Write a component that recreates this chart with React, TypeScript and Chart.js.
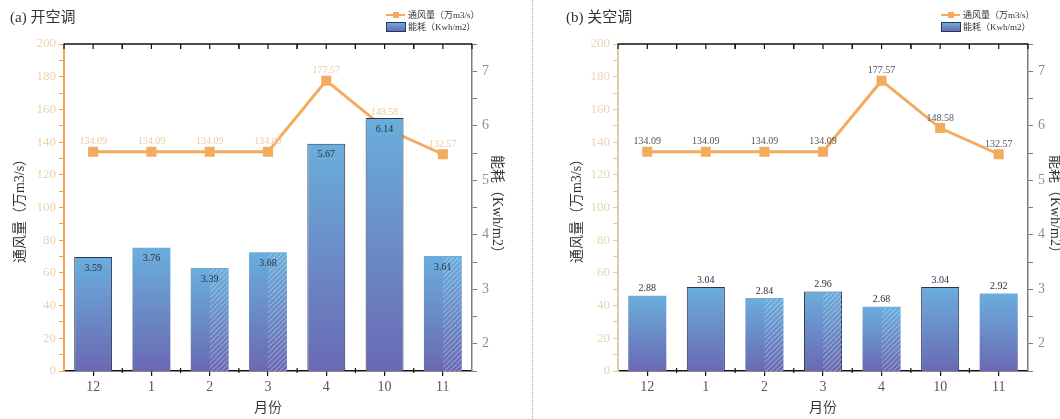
import React, { useEffect, useRef } from 'react';
import { Chart, registerables } from 'chart.js';
Chart.register(...registerables);

// ---------- data ----------
const months = ['12', '1', '2', '3', '4', '10', '11'];
const airflowOn = [134.09, 134.09, 134.09, 134.09, 177.57, 148.58, 132.57];
const energyOn = [3.59, 3.76, 3.39, 3.68, 5.67, 6.14, 3.61];
const airflowOff = [134.09, 134.09, 134.09, 134.09, 177.57, 148.58, 132.57];
const energyOff = [2.88, 3.04, 2.84, 2.96, 2.68, 3.04, 2.92];
const airflowRange = [0, 200];
const energyRange = [1.5, 7.5];

const FONT = '"Liberation Serif", "DejaVu Serif", "Noto Sans CJK SC", serif';
const ORANGE = '#F3AB5E';
const BAR_TOP = '#6AAEDC';
const BAR_BOTTOM = '#6A69B3';

interface Panel {
  airflow: number[];
  energy: number[];
  hatch: boolean[];
  border: boolean[];
  leftW: number;
  rightW: number;
  leftTitlePad: number;
  rightTitlePad: number;
  leftAxisColor: string;
  leftTickColor: string;
  barLabelInside: boolean;
  lineLabelColor: string;
  barsOnTop: boolean;
}

const panelOn: Panel = {
  airflow: airflowOn,
  energy: energyOn,
  hatch: [false, false, true, true, false, false, true],
  border: [true, false, false, false, true, true, false],
  leftW: 64,
  rightW: 58,
  leftTitlePad: 12,
  rightTitlePad: 25,
  leftAxisColor: '#F5A64C',
  leftTickColor: '#E9D2AC',
  barLabelInside: true,
  lineLabelColor: '#EFCB9F',
  barsOnTop: true,
};

const panelOff: Panel = {
  airflow: airflowOff,
  energy: energyOff,
  hatch: [false, false, true, true, true, false, false],
  border: [false, true, false, true, false, true, false],
  leftW: 88,
  rightW: 42,
  leftTitlePad: 39,
  rightTitlePad: 7,
  leftAxisColor: '#DCCBA4',
  leftTickColor: '#E6D5B2',
  barLabelInside: false,
  lineLabelColor: '#555555',
  barsOnTop: false,
};

function buildChart(canvas: HTMLCanvasElement, p: Panel) {
  const framePlugin = {
    id: 'frame',
    afterDraw(chart: any) {
      const { ctx, chartArea: a } = chart;
      const xs = chart.scales.x;
      const n = months.length;
      const half = (xs.getPixelForValue(1) - xs.getPixelForValue(0)) / 2;
      ctx.save();
      ctx.strokeStyle = '#111';
      ctx.lineWidth = 1.5;
      ctx.beginPath();
      ctx.moveTo(a.left, a.top);
      ctx.lineTo(a.right, a.top);
      ctx.stroke();
      ctx.lineWidth = 1.2;
      for (let i = 0; i < n; i++) {
        const cx = xs.getPixelForValue(i);
        [cx - half, cx, cx + half].forEach((xx) => {
          ctx.beginPath();
          ctx.moveTo(xx, a.top);
          ctx.lineTo(xx, a.top + 5);
          ctx.stroke();
        });
        if (i > 0) {
          ctx.beginPath();
          ctx.moveTo(cx - half, a.bottom - 3);
          ctx.lineTo(cx - half, a.bottom + 2);
          ctx.stroke();
        }
      }
      ctx.restore();
    },
  };

  const labelPlugin = {
    id: 'labels',
    afterDatasetDraw(chart: any, args: any) {
      if (args.index !== 1) return;
      const ctx = chart.ctx;
      const meta = chart.getDatasetMeta(1);
      ctx.save();
      meta.data.forEach((el: any, i: number) => {
        const { x, y, base, width } = el.getProps(['x', 'y', 'base', 'width'], true);
        if (p.hatch[i]) {
          ctx.save();
          ctx.beginPath();
          ctx.rect(x, y + 1, width / 2, base - y - 1);
          ctx.clip();
          ctx.strokeStyle = 'rgba(255,255,255,0.45)';
          ctx.lineWidth = 1;
          for (let k = -200; k < 400; k += 5) {
            ctx.beginPath();
            ctx.moveTo(x + k, base);
            ctx.lineTo(x + k + (base - y), y);
            ctx.stroke();
          }
          ctx.restore();
        }
        ctx.font = `10px ${FONT}`;
        ctx.textAlign = 'center';
        ctx.fillStyle = '#2a2f3a';
        if (p.barLabelInside) {
          ctx.textBaseline = 'top';
          ctx.fillText(p.energy[i].toFixed(2), x, y + 6);
        } else {
          ctx.textBaseline = 'bottom';
          ctx.fillText(p.energy[i].toFixed(2), x, y - 2);
        }
      });
      ctx.restore();
    },
    afterDatasetsDraw(chart: any) {
      const ctx = chart.ctx;
      const lineMeta = chart.getDatasetMeta(0);
      const barMeta = chart.getDatasetMeta(1);
      ctx.save();
      lineMeta.data.forEach((el: any, i: number) => {
        const { x, y } = el.getProps(['x', 'y'], true);
        let bottom = y - 5;
        if (p.barsOnTop) {
          const barTop = barMeta.data[i].getProps(['y'], true).y;
          if (bottom > barTop - 1 && y - 16 < barTop) bottom = barTop - 1;
        }
        ctx.font = `10px ${FONT}`;
        ctx.textAlign = 'center';
        ctx.textBaseline = 'bottom';
        ctx.fillStyle = p.lineLabelColor;
        ctx.fillText(p.airflow[i].toFixed(2), x, bottom);
      });
      ctx.restore();
    },
  };

  return new Chart(canvas, {
    type: 'bar',
    data: {
      labels: months,
      datasets: [
        {
          type: 'line',
          label: '通风量（万m3/s）',
          data: p.airflow,
          yAxisID: 'y',
          order: p.barsOnTop ? 1 : 0,
          borderColor: ORANGE,
          backgroundColor: ORANGE,
          borderWidth: 3,
          pointStyle: 'rect',
          pointRadius: 5,
          pointBackgroundColor: ORANGE,
          pointBorderColor: ORANGE,
          tension: 0,
        } as any,
        {
          type: 'bar',
          label: '能耗（Kwh/m2）',
          data: p.energy,
          yAxisID: 'y1',
          order: p.barsOnTop ? 0 : 1,
          barPercentage: 0.65,
          categoryPercentage: 1,
          borderWidth: p.border.map((b) => (b ? 1 : 0)),
          borderColor: '#2c3550',
          backgroundColor: (c: any) => {
            const chart = c.chart;
            const a = chart.chartArea;
            if (!a || c.type !== 'data' || !chart.scales.y1) return BAR_TOP;
            const top = chart.scales.y1.getPixelForValue(c.raw);
            const g = chart.ctx.createLinearGradient(0, top, 0, a.bottom);
            g.addColorStop(0, BAR_TOP);
            g.addColorStop(1, BAR_BOTTOM);
            return g;
          },
        } as any,
      ],
    },
    options: {
      animation: false,
      responsive: false,
      maintainAspectRatio: false,
      layout: { padding: { top: 44, left: 0, right: 0, bottom: 0 } },
      plugins: { legend: { display: false }, tooltip: { enabled: false } },
      scales: {
        x: {
          type: 'category',
          offset: true,
          grid: { display: true, drawOnChartArea: false, offset: false, tickLength: 5, color: '#111', lineWidth: 1.2 },
          border: { display: true, color: '#111', width: 1.5 },
          ticks: { font: { family: FONT, size: 14 }, color: '#555', padding: 3 },
          title: { display: true, text: '月份', font: { family: FONT, size: 14 }, color: '#333', padding: { top: 0, bottom: 2 } },
          afterFit: (s: any) => { s.height = 48; },
        },
        y: {
          type: 'linear',
          position: 'left',
          min: airflowRange[0],
          max: airflowRange[1],
          grid: { display: true, drawOnChartArea: false, tickLength: 5, color: p.leftAxisColor },
          border: { display: true, color: p.leftAxisColor, width: 2 },
          ticks: {
            stepSize: 10,
            autoSkip: false,
            padding: 3,
            color: p.leftTickColor,
            font: { family: FONT, size: 13 },
            callback: (v: any) => (Number(v) % 20 === 0 ? String(v) : ''),
          },
          title: { display: true, text: '通风量（万m3/s）', font: { family: FONT, size: 14 }, color: '#333', padding: { top: p.leftTitlePad, bottom: 0 } },
          afterFit: (s: any) => { s.width = p.leftW; },
        },
        y1: {
          type: 'linear',
          position: 'right',
          min: energyRange[0],
          max: energyRange[1],
          grid: { display: true, drawOnChartArea: false, tickLength: 5, color: '#6F7E82' },
          border: { display: true, color: '#6F7E82', width: 1.5 },
          ticks: {
            stepSize: 0.5,
            autoSkip: false,
            padding: 5,
            color: '#8A8F92',
            font: { family: FONT, size: 14 },
            callback: (v: any) => (Number.isInteger(Number(v)) ? String(v) : ''),
          },
          title: { display: true, text: '能耗（Kwh/m2）', font: { family: FONT, size: 14 }, color: '#333', padding: { top: p.rightTitlePad, bottom: 0 } },
          afterFit: (s: any) => { s.width = p.rightW; },
        },
      },
    } as any,
    plugins: [framePlugin, labelPlugin],
  });
}

function ChartCanvas({ panel, left, width }: { panel: Panel; left: number; width: number }) {
  const ref = useRef<HTMLCanvasElement>(null);
  useEffect(() => {
    if (!ref.current) return;
    const c = buildChart(ref.current, panel);
    return () => c.destroy();
  }, [panel]);
  return (
    <canvas
      ref={ref}
      width={width}
      height={419}
      style={{ position: 'absolute', left, top: 0, width, height: 419 }}
    />
  );
}

function Legend({ left }: { left: number }) {
  const text: React.CSSProperties = {
    position: 'absolute',
    left: left + 22,
    fontFamily: FONT,
    fontSize: 9,
    color: '#333',
    whiteSpace: 'nowrap',
    lineHeight: '10px',
  };
  return (
    <>
      <div style={{ position: 'absolute', left, top: 14, width: 19, height: 2, background: ORANGE }} />
      <div style={{ position: 'absolute', left: left + 7, top: 12, width: 6, height: 6, background: ORANGE }} />
      <div style={{ ...text, top: 10 }}>通风量（万m3/s）</div>
      <div
        style={{
          position: 'absolute',
          left,
          top: 22,
          width: 18,
          height: 8,
          background: `linear-gradient(${BAR_TOP}, ${BAR_BOTTOM})`,
          border: '1px solid #2c3550',
        }}
      />
      <div style={{ ...text, top: 22 }}>能耗（Kwh/m2）</div>
    </>
  );
}

export default function App() {
  const title: React.CSSProperties = {
    position: 'absolute',
    top: 7,
    fontFamily: FONT,
    fontSize: 15,
    color: '#333',
    whiteSpace: 'nowrap',
    lineHeight: '20px',
  };
  return (
    <div style={{ position: 'absolute', left: 0, top: 0, width: 1060, height: 419, overflow: 'hidden', background: '#fff' }}>
      <ChartCanvas panel={panelOn} left={0} width={530} />
      <ChartCanvas panel={panelOff} left={530} width={540} />
      <div style={{ position: 'absolute', left: 532, top: 0, height: 419, borderLeft: '1px dotted #aaa' }} />
      <div style={{ ...title, left: 10 }}>(a) 开空调</div>
      <div style={{ ...title, left: 566 }}>(b) 关空调</div>
      <Legend left={386} />
      <Legend left={941} />
    </div>
  );
}
